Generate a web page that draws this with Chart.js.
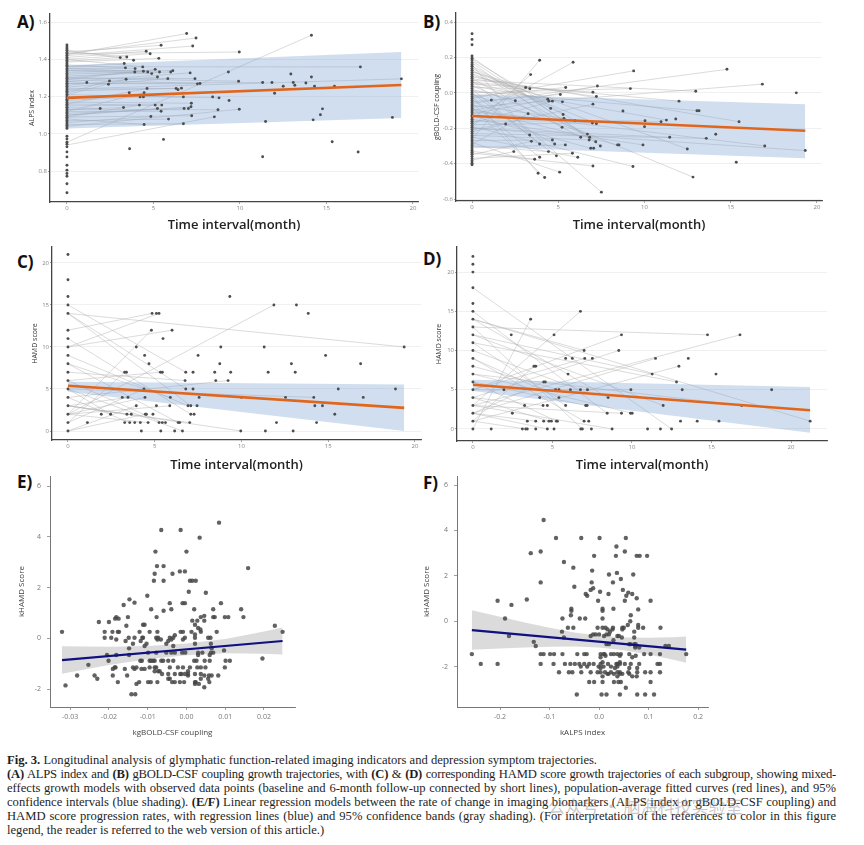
<!DOCTYPE html>
<html><head><meta charset="utf-8">
<script src="https://cdn.jsdelivr.net/npm/chart.js@4.4.1/dist/chart.umd.min.js"></script>
<style>
html,body{margin:0;padding:0;background:#fff;width:864px;height:845px;overflow:hidden;position:relative;}
canvas{position:absolute;}
.lbl{position:absolute;font:bold 17px "Open Sans",sans-serif;line-height:17px;color:#111;}
.cap{position:absolute;left:7px;top:753px;width:829px;font:12.6px/14px "Liberation Serif",serif;color:#1e1e1e;}
.cap div{text-align:justify;text-align-last:justify;white-space:nowrap;}
.cap div.l{text-align:left;text-align-last:left;}
.cap div.t{letter-spacing:-0.2px;}
.wm{position:absolute;left:548px;top:793px;font:17px "Noto Sans CJK SC",sans-serif;color:rgba(130,130,130,0.45);}
</style></head><body>
<div class="lbl" style="left:17px;top:13px">A)</div>
<div class="lbl" style="left:423px;top:13px">B)</div>
<div class="lbl" style="left:17px;top:253px">C)</div>
<div class="lbl" style="left:423px;top:250px">D)</div>
<div class="lbl" style="left:17px;top:473px">E)</div>
<div class="lbl" style="left:423px;top:474px">F)</div>
<div class="cap">
<div class="l"><b>Fig. 3.</b> Longitudinal analysis of glymphatic function-related imaging indicators and depression symptom trajectories.</div>
<div class="t"><b>(A)</b> ALPS index and <b>(B)</b> gBOLD-CSF coupling growth trajectories, with <b>(C)</b> &amp; <b>(D)</b> corresponding HAMD score growth trajectories of each subgroup, showing mixed-</div>
<div>effects growth models with observed data points (baseline and 6-month follow-up connected by short lines), population-average fitted curves (red lines), and 95%</div>
<div>confidence intervals (blue shading). <b>(E/F)</b> Linear regression models between the rate of change in imaging biomarkers (ALPS index or gBOLD-CSF coupling) and</div>
<div>HAMD score progression rates, with regression lines (blue) and 95% confidence bands (gray shading). (For interpretation of the references to color in this figure</div>
<div class="l">legend, the reader is referred to the web version of this article.)</div>
</div>
<div class="wm">公众号 · 脑海科技实验室</div>
<script>
// ---------- Panel A: ALPS index trajectories ----------
const aTicksX=[0,5,10,15,20], aTickLabelsX=['0','5','10','15','20'];
const aTicksY=[0.8,1.0,1.2,1.4,1.6], aTickLabelsY=['0.8','1.0','1.2','1.4','1.6'];
const aBaseline=[1.477,1.466,1.457,1.448,1.437,1.429,1.421,1.411,1.403,1.394,1.386,1.376,1.368,1.360,1.349,1.342,1.333,1.324,1.316,1.306,1.298,1.289,1.281,1.272,1.263,1.255,1.246,1.237,1.229,1.220,1.211,1.203,1.194,1.185,1.177,1.168,1.159,1.151,1.142,1.133,1.124,1.115,1.107,1.098,1.089,1.081,1.072,1.063,1.054,1.046,1.037,1.029,0.987,0.972,0.955,0.944,0.930,0.903,0.876,0.831,0.805,0.787,0.772,0.732,0.684];
const aFollowT=[6.92,7.46,14.13,5.44,7.27,4.58,4.81,9.96,3.08,3.46,3.85,5.31,3.31,3.38,3.94,3.92,4.42,4.38,4.67,4.90,5.10,5.35,5.23,6.00,6.12,5.83,7.12,7.40,7.54,9.33,9.92,1.15,2.46,2.40,3.42,4.63,3.60,4.46,4.23,4.42,6.31,6.42,6.62,6.73,8.42,8.79,9.37,7.69,11.31,11.85,12.00,12.50,12.94,13.08,13.17,13.81,14.13,14.31,15.46,16.96,19.33,1.92,3.27,4.19,5.10,5.23,5.48,5.44,4.85,4.46,5.87,6.73,6.77,7.02,7.17,7.19,7.21,8.52,8.73,9.96,11.48,14.23,14.65,14.77,18.81,5.58,3.62,11.31,15.33,16.83];
const aFollowV=[1.538,1.514,1.529,1.475,1.471,1.443,1.430,1.439,1.409,1.412,1.395,1.405,1.377,1.354,1.350,1.332,1.336,1.359,1.332,1.323,1.346,1.332,1.305,1.332,1.339,1.296,1.327,1.296,1.268,1.332,1.282,1.275,1.284,1.266,1.293,1.243,1.220,1.220,1.198,1.198,1.243,1.237,1.245,1.198,1.198,1.193,1.179,1.270,1.275,1.275,1.218,1.255,1.321,1.275,1.261,1.273,1.305,1.255,1.255,1.359,1.295,1.136,1.141,1.154,1.154,1.136,1.154,1.121,1.093,1.050,1.079,1.054,1.136,1.136,1.145,1.164,1.097,1.091,1.129,1.132,1.066,1.075,1.102,1.134,1.088,0.970,0.920,0.877,0.957,0.902];
const aLinkBase=[1.425,1.43,0.955,1.44,1.42,1.41,1.40,1.43,1.39,1.44,1.45,1.385,1.36,1.37,1.35,1.30,1.33,1.40,1.32,1.34,1.29,1.35,1.26,1.31,1.34,1.25,1.28,1.30,1.27,null,1.30,1.28,1.22,null,1.21,1.16,null,1.12,1.18,null,1.24,null,1.23,1.20,null,1.21,null,1.29,1.27,null,null,null,null,null,null,null,null,null,null,1.36,1.24,1.14,1.13,1.09,1.15,1.10,1.16,1.12,1.06,1.08,1.07,1.05,1.11,null,1.10,1.17,1.09,0.94,1.13,1.04,null,null,null,null,null,null,null,null,null,null];
const aFitT=[0,19.33], aFitV=[1.193,1.262], aBandUpper=[1.368,1.439], aBandLower=[1.029,1.085];

// ---------- Panel B: gBOLD-CSF coupling trajectories ----------
const bTicksX=[0,5,10,15,20], bTickLabelsX=['0','5','10','15','20'];
const bTicksY=[-0.6,-0.4,-0.2,0.0,0.2,0.4], bTickLabelsY=['-0.6','-0.4','-0.2','0.0','0.2','0.4'];
const bBaseline=[0.334,0.302,0.272,0.208,0.196,0.185,0.172,0.160,0.150,0.138,0.127,0.115,0.104,0.093,0.082,0.070,0.058,0.047,0.036,0.024,0.012,0.001,-0.010,-0.022,-0.033,-0.045,-0.056,-0.068,-0.080,-0.091,-0.102,-0.114,-0.126,-0.137,-0.149,-0.160,-0.172,-0.184,-0.195,-0.207,-0.219,-0.230,-0.242,-0.254,-0.266,-0.277,-0.289,-0.300,-0.312,-0.324,-0.335,-0.347,-0.360,-0.372,-0.385,-0.398,-0.406];
const bFollowT=[3.92,5.86,9.37,14.78,16.83,18.80,12.97,3.40,3.11,3.35,5.43,7.27,7.01,9.18,7.21,5.12,1.12,2.51,4.39,4.46,4.66,5.24,12.0,7.01,4.56,8.75,3.25,5.28,5.33,5.97,13.04,13.16,1.95,5.22,6.98,7.21,10.03,10.0,10.96,11.27,11.81,15.48,3.34,6.30,6.69,6.82,6.79,7.17,7.44,6.88,7.05,3.44,3.92,4.66,4.79,5.41,8.44,8.52,9.91,11.46,12.48,13.58,14.13,16.97,19.32,2.42,3.63,3.92,4.43,4.89,5.82,6.13,7.01,9.33,15.32,12.81,3.83,4.21,5.08,7.50];
const bFollowV=[0.184,0.173,0.124,0.133,0.049,0.0,0.009,0.103,0.030,0.023,0.030,0.039,0.004,0.024,-0.021,-0.009,-0.041,-0.045,-0.036,-0.047,-0.047,-0.051,-0.047,-0.064,-0.088,-0.103,-0.118,-0.122,-0.144,-0.158,-0.101,-0.101,-0.176,-0.195,-0.171,-0.174,-0.158,-0.191,-0.163,-0.154,-0.148,-0.163,-0.238,-0.251,-0.233,-0.251,-0.266,-0.276,-0.300,-0.313,-0.313,-0.274,-0.289,-0.266,-0.289,-0.294,-0.294,-0.294,-0.294,-0.251,-0.317,-0.257,-0.234,-0.300,-0.326,-0.332,-0.375,-0.364,-0.332,-0.356,-0.341,-0.364,-0.413,-0.416,-0.392,-0.476,-0.454,-0.478,-0.448,-0.561];
const bLinkBase=[-0.26,-0.14,-0.03,-0.06,-0.08,null,0.07,-0.19,0.12,0.03,-0.02,-0.10,0.05,0.00,0.08,-0.05,null,0.02,-0.12,0.06,-0.17,0.10,0.06,-0.21,0.14,null,-0.29,0.15,-0.07,0.19,0.01,null,-0.22,0.17,-0.11,0.11,-0.16,null,-0.18,0.04,null,0.09,0.16,0.08,-0.01,0.18,-0.24,0.13,0.20,-0.13,null,-0.35,0.02,-0.27,-0.04,-0.31,-0.09,null,-0.15,-0.20,0.12,-0.23,null,-0.10,-0.20,-0.38,-0.33,-0.06,-0.30,0.00,-0.37,-0.25,-0.34,-0.19,null,0.04,-0.02,-0.08,-0.28,0.07];
const bFitT=[0,19.32], bFitV=[-0.131,-0.214], bBandUpper=[-0.008,-0.064], bBandLower=[-0.304,-0.370];

// ---------- Panel C: HAMD score trajectories (ALPS subgroup) ----------
const cTicksX=[0,5,10,15,20], cTickLabelsX=['0','5','10','15','20'];
const cTicksY=[0,5,10,15,20], cTickLabelsY=['0','5','10','15','20'];
const cBaseline=[21,18,16,15,14,12,11,10,9,8,7,6,5,4,3,2,1,0];
const cFollowT=[9.33,11.87,13.17,13.85,4.85,5.10,5.25,4.81,6.00,5.48,3.94,8.81,11.31,19.38,4.42,7.50,14.85,4.67,8.75,12.88,16.87,3.27,3.37,5.33,5.44,6.79,7.21,8.46,9.38,11.54,13.10,6.75,8.52,9.23,4.38,6.79,7.21,15.58,18.88,3.13,3.46,4.44,5.90,7.56,10.00,12.54,14.17,17.02,3.94,5.10,5.87,6.92,7.08,7.44,14.23,14.67,1.92,2.46,3.40,3.65,4.46,4.52,4.90,7.08,7.27,15.38,1.12,3.27,3.56,3.85,4.17,4.62,5.25,5.44,5.62,6.35,6.44,7.02,12.02,14.33,4.23,5.35,6.15,6.60,9.96,11.38,12.98];
const cFollowV=[16,15,15,14,14,14,14,12,12,11,10,10,10,10,9,9,9,8,8,8,8,7,7,7,7,7,7,7,7,7,7,6,6,6,5,5,5,5,5,4,4,4,4,4,4,4,4,4,3,3,3,3,3,3,3,3,2,2,2,2,2,2,2,2,2,2,1,1,1,1,1,1,1,1,1,1,1,1,1,1,0,0,0,0,0,0,0];
const cLinkBase=[null,2,null,null,12,null,10,2,10,null,null,null,null,14,null,null,null,null,null,null,null,1,null,6,null,15,null,null,null,null,null,7,null,4,1,14,null,null,null,null,3,2,8,null,null,null,5,null,0,null,2,9,14,null,null,null,null,5,3,null,0,null,null,11,null,null,null,null,4,null,null,2,null,6,null,8,null,3,null,null,null,null,null,5,3,null,null];
const cFitT=[0,19.38], cFitV=[5.38,2.75], cBandUpper=[5.86,5.54], cBandLower=[4.66,0.0];

// ---------- Panel D: HAMD score trajectories (gBOLD-CSF subgroup) ----------
const dTicksX=[0,5,10,15,20], dTickLabelsX=['0','5','10','15','20'];
const dTicksY=[0,5,10,15,20], dTickLabelsY=['0','5','10','15','20'];
const dBaseline=[22,21,20,18,16,15,14,13,12,11,10,9,8,7,6,5,4,3,2,1,0];
const dFollowT=[6.76,3.63,2.41,5.10,9.34,14.75,16.79,6.99,9.17,5.83,6.25,7.03,7.51,11.48,13.54,3.84,3.95,12.95,5.98,11.27,15.28,4.45,4.55,12.80,1.95,5.20,5.41,6.13,6.76,7.20,9.93,13.16,18.78,4.20,5.41,8.50,3.25,4.41,4.68,5.83,7.09,7.18,11.96,16.89,2.48,8.44,9.34,9.91,10.01,3.42,3.95,4.45,4.78,4.93,5.25,5.31,6.99,7.28,13.05,14.10,15.47,21.20,1.15,3.11,3.32,3.42,3.95,4.68,5.10,6.78,6.88,7.45,8.75,10.98,11.79,12.49];
const dFollowV=[15,14,12,12,12,12,12,10,10,9,9,9,9,9,9,8,8,8,7,7,7,6,6,6,5,5,5,5,5,5,5,5,5,4,4,4,3,3,3,3,3,3,3,3,2,2,2,2,2,1,1,1,1,1,1,1,1,1,1,1,1,1,0,0,0,0,0,0,0,0,0,0,0,0,0,0];
const dLinkBase=[3,0,null,null,5,13,3,14,4,null,null,5,null,2,null,1,null,1,null,12,null,2,null,11,null,null,8,null,10,null,5,null,null,null,9,14,null,4,null,11,6,null,12,7,null,15,3,null,7,null,2,null,4,null,6,null,9,null,null,null,null,14,null,null,1,null,null,2,null,null,13,null,3,null,null,18];
const dFitT=[0,21.2], dFitV=[5.65,2.38], dBandUpper=[6.28,5.35], dBandLower=[4.84,-0.47];

// ---------- Panel E: kHAMD vs kgBOLD-CSF coupling ----------
const eTicksX=[-0.03,-0.02,-0.01,0,0.01,0.02], eTickLabelsX=['-0.03','-0.02','-0.01','0.00','0.01','0.02'];
const eTicksY=[-2,0,2,4,6], eTickLabelsY=['-2','0','2','4','6'];
const eRowKHAMD=[4.56,4.27,3.97,3.42,2.85,2.77,2.64,2.55,2.27,1.84,1.80,1.68,1.54,1.41,1.39,1.32,1.15,1.09,0.89,0.84,0.78,0.70,0.65,0.54,0.50,0.41,0.35,0.26,0.16,0.13,0.03,-0.04,-0.10,-0.21,-0.30,-0.39,-0.47,-0.56,-0.65,-0.79,-0.88,-1.04,-1.14,-1.20,-1.29,-1.40,-1.46,-1.59,-1.72,-1.79,-1.85,-1.92,-2.20];
const eRowKgBOLD=[[0.0084],[-0.0065,-0.0015],[0.0034],[-0.0080,0.0],[-0.0076,-0.0059],[0.0159],[-0.0017,-0.0004],[-0.0082,-0.0036],[-0.0084,-0.0059,0.0009,0.0015,0.0024],[0.0006],[0.0050],[-0.0101],[-0.0147],[-0.0134],[-0.0043,-0.0010,-0.0004,0.0089],[-0.0162],[-0.0091,-0.0039,0.0020,0.0069,0.0141],[-0.0059],[0.0046],[-0.0181,-0.0151,-0.0077,0.0037,0.0069,0.0073,0.0099,0.0108,0.0147],[-0.0184,-0.0175],[0.0015,0.0028,0.0046],[-0.0226,-0.0200],[-0.0112,-0.0108,0.0022],[-0.0155,0.0228],[0.0030],[0.0036],[-0.0321,-0.0211,-0.0191,-0.0177,-0.0174,-0.0121,-0.0095,-0.0075,-0.0015,-0.0009,0.0013,0.0037,0.0078,0.0248],[0.0022],[-0.0030],[-0.0211,-0.0194,-0.0149,-0.0134,-0.0114,-0.0112,-0.0078,-0.0073,-0.0043,-0.0034,-0.0004,0.0022,0.0056,0.0062],[-0.0181,-0.0075,-0.0066,-0.0039,-0.0009],[-0.0157,-0.0118,-0.0047],[-0.0138,-0.0103,-0.0052,0.0022,0.0063],[-0.0108,-0.0034],[-0.0148,0.0065],[0.0097],[-0.0099,-0.0078,-0.0052,-0.0039,-0.0030,-0.0011,-0.0003,0.0030,0.0041,0.0063,0.0069],[-0.0205,-0.0181,-0.0148,0.0030,0.0060],[0.0196],[-0.0201,-0.0119,-0.0115,-0.0095,-0.0091,-0.0086,-0.0082,-0.0065,-0.0060,-0.0047,-0.0034,0.0020,0.0026,0.0047,0.0060,0.0101,0.0112],[-0.0253],[-0.0185,-0.0183,-0.0138,-0.0129,-0.0095,-0.0082,-0.0078,-0.0043,-0.0022,-0.0009,0.0009,0.0028,0.0037,0.0049,0.0099],[-0.0190,-0.0159,-0.0134,-0.0116,-0.0108],[-0.0082,-0.0073,-0.0069,0.0004],[-0.0063,-0.0047,-0.0030,-0.0016,-0.0013,-0.0004,0.0004,0.0022,0.0037],[-0.0282,-0.0237,-0.0190,-0.0153,0.0004,0.0046,0.0058,0.0065,0.0082],[-0.0230,-0.0047,-0.0043,0.0037,0.0056],[-0.0177,-0.0122,-0.0099,-0.0092,-0.0075,-0.0037,-0.0030,-0.0017,-0.0006,0.0022,0.0024,0.0059],[-0.0129,0.0022,0.0032],[-0.0312],[0.0046],[-0.0142,-0.0132]];
const eFitX=[-0.0321,0.0248], eFitY=[-0.854,-0.101];
const eBandX=[-0.0321,-0.02,-0.01,0,0.01,0.02,0.0248];
const eBandUpper=[-0.31,-0.33,-0.30,-0.20,-0.02,0.27,0.43];
const eBandLower=[-1.39,-1.05,-0.82,-0.66,-0.58,-0.60,-0.63];

// ---------- Panel F: kHAMD vs kALPS index ----------
const fTicksX=[-0.2,-0.1,0,0.1,0.2], fTickLabelsX=['-0.2','-0.1','0.0','0.1','0.2'];
const fTicksY=[-2,0,2,4,6], fTickLabelsY=['-2','0','2','4','6'];
const fRowKHAMD=[4.46,3.67,3.29,3.07,3.00,2.88,2.61,2.36,2.23,2.13,2.06,1.86,1.71,1.52,1.45,1.38,1.30,1.26,1.20,1.12,1.01,0.96,0.90,0.72,0.55,0.52,0.46,0.26,0.12,0.00,-0.17,-0.29,-0.36,-0.46,-0.58,-0.65,-0.72,-0.84,-0.91,-1.01,-1.09,-1.16,-1.45,-1.52,-1.59,-1.81,-1.88,-2.00,-2.06,-2.25,-2.32,-2.43,-2.68,-2.93,-3.23];
const fRowKALPS=[[-0.112],[-0.087,-0.036,0.001,0.054],[0.035],[-0.118,0.052],[-0.138],[-0.010,0.034,0.076,0.082,0.097],[-0.071],[-0.052],[-0.014],[0.036],[0.020,0.069],[0.044],[-0.118,-0.015,0.028],[-0.050],[-0.012],[-0.017,0.048],[0.002],[0.059],[-0.027,0.019,0.067],[-0.024,0.055],[0.076],[-0.146],[-0.205,-0.002,0.052,0.104],[-0.177],[-0.056,0.007,0.029],[0.079],[-0.056,0.007],[-0.057,0.064],[-0.190,-0.074,-0.039,-0.028,0.007],[0.063],[0.058,0.079],[-0.063,-0.052,-0.003,0.007,0.013,0.028,0.047,0.050,0.079,0.089,0.124],[0.017,0.027,0.047],[-0.075,0.022,0.071],[-0.012,-0.007,0.0,0.015,0.020],[-0.182,-0.017,0.010,0.037,0.040],[-0.071,0.046,0.071],[0.029],[-0.132],[0.015,0.020,0.061,0.063,0.071,0.074],[-0.128,0.073,0.134,0.141],[0.073,0.081],[-0.257,-0.118,-0.112,-0.099,-0.091,-0.074,-0.044,-0.030,-0.025,0.003,0.009,0.011,0.024,0.030,0.037,0.044,0.061,0.091,0.104,0.123,0.176],[0.013,0.042,0.074],[0.003,0.067],[0.007,0.042],[-0.239,-0.205,-0.118,-0.092,-0.069,-0.058,-0.049,-0.040,-0.030,-0.020,-0.011,0.003,0.018,0.035,0.037,0.042,0.052,0.064,0.081,0.118,0.123],[-0.037,-0.024,-0.001,0.009,0.024,0.037],[0.003,0.032,0.061,0.077],[-0.081,-0.061,-0.054,-0.036,-0.017,-0.003,0.003,0.012,0.024,0.037,0.042,0.059,0.077,0.093,0.104,0.123],[0.017,0.019,0.030,0.042,0.047,0.061],[0.007,0.037,0.067,0.076],[-0.020,-0.010,0.007,0.030,0.039,0.044,0.104],[0.054],[-0.045,0.005,0.015,0.042,0.077,0.093,0.111]];
const fFitX=[-0.257,0.176], fFitY=[-0.39,-1.254];
const fBandX=[-0.257,-0.2,-0.15,-0.1,-0.05,0,0.05,0.1,0.15,0.176];
const fBandUpper=[0.48,0.196,-0.053,-0.283,-0.493,-0.643,-0.723,-0.732,-0.702,-0.674];
const fBandLower=[-1.26,-1.204,-1.153,-1.123,-1.113,-1.163,-1.283,-1.472,-1.702,-1.834];

// ---------- helpers ----------
const xy=(xs,ys)=>xs.map((x,i)=>({x:x,y:ys[i]}));
function trajDatasets(base,ft,fv,link,fitT,fitV,up,lo){
  const segs=[];
  ft.forEach((t,i)=>{ if(link[i]!==null){ segs.push({x:0,y:link[i]},{x:t,y:fv[i]},{x:t,y:null}); } });
  const pts=base.map(v=>({x:0,y:v})).concat(xy(ft,fv));
  return [
    {data:xy(fitT,fitV),borderColor:'#e2651c',borderWidth:2.6,pointRadius:0,fill:false},
    {data:pts,showLine:false,pointRadius:1.45,pointBackgroundColor:'#4d4d4d',pointBorderWidth:0},
    {data:xy(fitT,up),borderWidth:0,borderColor:'rgba(0,0,0,0)',pointRadius:0,fill:'+1',backgroundColor:'rgba(126,164,212,0.36)'},
    {data:xy(fitT,lo),borderWidth:0,borderColor:'rgba(0,0,0,0)',pointRadius:0,fill:false},
    {data:segs,borderColor:'rgba(175,175,175,0.5)',borderWidth:0.9,pointRadius:0,fill:false,spanGaps:false}
  ];
}
function regDatasets(rowY,rowX,fx,fy,bx,bu,bl){
  const pts=[];
  rowY.forEach((y,i)=>rowX[i].forEach(x=>pts.push({x:x,y:y})));
  return [
    {data:xy(fx,fy),borderColor:'#101080',borderWidth:2.2,pointRadius:0,fill:false},
    {data:pts,showLine:false,pointRadius:2.2,pointBackgroundColor:'rgba(70,70,70,0.85)',pointBorderWidth:0},
    {data:xy(bx,bu),borderWidth:0,borderColor:'rgba(0,0,0,0)',pointRadius:0,fill:'+1',backgroundColor:'rgba(180,180,180,0.48)'},
    {data:xy(bx,bl),borderWidth:0,borderColor:'rgba(0,0,0,0)',pointRadius:0,fill:false}
  ];
}
function axis(min,max,ticks,labels,o){
  return {
    type:'linear',min:min,max:max,
    afterBuildTicks:s=>{s.ticks=ticks.map(v=>({value:v}));},
    afterFit:s=>{ if(o.w!==undefined) s.width=o.w; if(o.h!==undefined) s.height=o.h; },
    grid:{drawOnChartArea:!!o.grid,color:'#ececec',lineWidth:0.8,tickLength:o.tl,tickColor:o.tc,tickWidth:0.8},
    border:{display:true,color:o.bc,width:o.bw},
    ticks:{autoSkip:false,maxRotation:0,padding:o.tp,color:o.tcol,font:{size:o.tfs,family:'Open Sans'},
      callback:(v)=>{const k=ticks.findIndex(t=>Math.abs(t-v)<1e-9);return k>=0?labels[k]:'';}},
    title:{display:true,text:o.title,color:o.titleColor,font:{size:o.titleSize,family:'Open Sans',weight:o.titleWeight||'normal'},padding:o.titlePad}
  };
}
function panel(box,area,datasets,xs,ys){
  const c=document.createElement('canvas');
  const w=box.r-box.l,h=box.b-box.t;
  c.width=w;c.height=h;c.style.left=box.l+'px';c.style.top=box.t+'px';c.style.width=w+'px';c.style.height=h+'px';
  document.body.appendChild(c);
  new Chart(c,{type:'line',data:{datasets:datasets},options:{
    responsive:false,animation:false,events:[],devicePixelRatio:1,
    layout:{padding:{left:0,top:area.t-box.t,right:box.r-area.r,bottom:0}},
    plugins:{legend:{display:false},tooltip:{enabled:false},title:{display:false}},
    elements:{line:{tension:0}},
    scales:{x:xs,y:ys}
  }});
}
const trajX=(min,max,t,l,box,area)=>axis(min,max,t,l,{h:box.b-area.b,tl:2,tc:'#888',bc:'#444',bw:1.3,tp:1,tcol:'#888',tfs:6,
  title:'Time interval(month)',titleColor:'#222',titleSize:13,titleWeight:'600',titlePad:{top:0,bottom:3.2}});
const trajY=(min,max,t,l,box,area,title,off)=>axis(min,max,t,l,{w:area.l-box.l,grid:true,tl:2,tc:'#888',bc:'#444',bw:1.3,tp:1,tcol:'#888',tfs:6,
  title:title,titleColor:'#333',titleSize:7,titlePad:{top:off-4.2,bottom:0}});
const regX=(min,max,t,l,box,area,title)=>axis(min,max,t,l,{h:box.b-area.b,tl:3,tc:'#888',bc:'#777',bw:1,tp:3,tcol:'#777',tfs:7,
  title:title,titleColor:'#444',titleSize:8,titlePad:{top:0,bottom:7.2}});
const regY=(min,max,t,l,box,area,title)=>axis(min,max,t,l,{w:area.l-box.l,tl:3,tc:'#888',bc:'#777',bw:1,tp:6,tcol:'#777',tfs:7,
  title:title,titleColor:'#444',titleSize:8,titlePad:{top:7.2,bottom:0}});

// A
let box={l:20,t:4,r:425,b:236}, area={l:50,t:14,r:418,b:202};
panel(box,area,trajDatasets(aBaseline,aFollowT,aFollowV,aLinkBase,aFitT,aFitV,aBandUpper,aBandLower),
  trajX(-0.98,20.29,aTicksX,aTickLabelsX,box,area),trajY(0.634,1.643,aTicksY,aTickLabelsY,box,area,'ALPS index',12));
// B
box={l:425,t:4,r:830,b:236}; area={l:456,t:13,r:822,b:201};
panel(box,area,trajDatasets(bBaseline,bFollowT,bFollowV,bLinkBase,bFitT,bFitV,bBandUpper,bBandLower),
  trajX(-0.93,20.29,bTicksX,bTickLabelsX,box,area),trajY(-0.611,0.451,bTicksY,bTickLabelsY,box,area,'gBOLD-CSF coupling',12));
// C
box={l:20,t:240,r:428,b:476}; area={l:52,t:247,r:421,b:440};
panel(box,area,trajDatasets(cBaseline,cFollowT,cFollowV,cLinkBase,cFitT,cFitV,cBandUpper,cBandLower),
  trajX(-0.92,20.35,cTicksX,cTickLabelsX,box,area),trajY(-1.07,21.9,cTicksY,cTickLabelsY,box,area,'HAMD score',15));
// D
box={l:425,t:240,r:835,b:476}; area={l:457,t:247,r:827,b:441};
panel(box,area,trajDatasets(dBaseline,dFollowT,dFollowV,dLinkBase,dFitT,dFitV,dBandUpper,dBandLower),
  trajX(-1.0,22.26,dTicksX,dTickLabelsX,box,area),trajY(-1.53,23.2,dTicksY,dTickLabelsY,box,area,'HAMD score',14));
// E
box={l:10,t:466,r:300,b:745}; area={l:50,t:473,r:295,b:707};
panel(box,area,regDatasets(eRowKHAMD,eRowKgBOLD,eFitX,eFitY,eBandX,eBandUpper,eBandLower),
  regX(-0.0352,0.028,eTicksX,eTickLabelsX,box,area,'kgBOLD-CSF coupling'),regY(-2.70,6.39,eTicksY,eTickLabelsY,box,area,'kHAMD Score'));
// F
box={l:415,t:466,r:712,b:745}; area={l:457,t:473,r:708,b:707};
panel(box,area,regDatasets(fRowKHAMD,fRowKALPS,fFitX,fFitY,fBandX,fBandUpper,fBandLower),
  regX(-0.287,0.220,fTicksX,fTickLabelsX,box,area,'kALPS index'),regY(-3.78,6.39,fTicksY,fTickLabelsY,box,area,'kHAMD Score'));
</script>
</body></html>
